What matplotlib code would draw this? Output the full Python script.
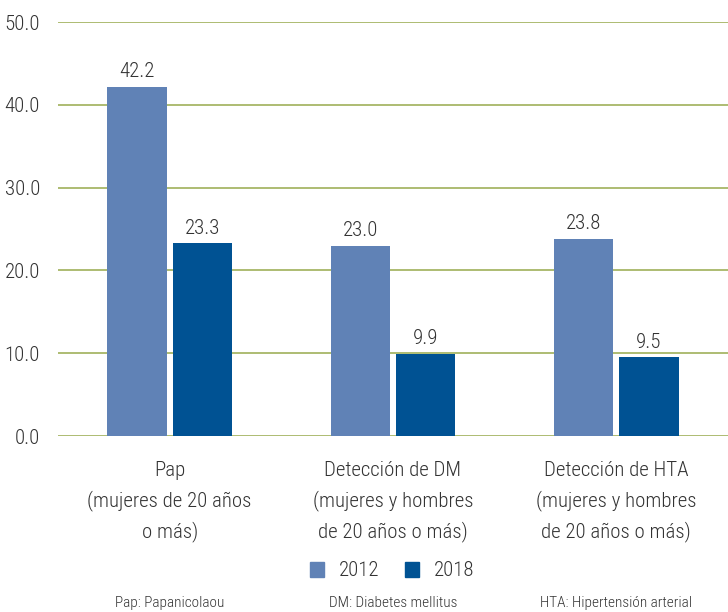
import matplotlib
matplotlib.use("Agg")
import matplotlib.pyplot as plt
import numpy as np
from matplotlib.patches import Rectangle

plt.rcParams['font.family'] = ['Roboto Condensed', 'DejaVu Sans']
plt.rcParams['font.weight'] = 300

categories = ["Pap\n(mujeres de 20 años\no más)",
              "Detección de DM\n(mujeres y hombres\nde 20 años o más)",
              "Detección de HTA\n(mujeres y hombres\nde 20 años o más)"]
series_names = ["2012", "2018"]
values_2012 = [42.2, 23.0, 23.8]
values_2018 = [23.3, 9.9, 9.5]
yticks = [0, 10, 20, 30, 40, 50]
footnotes = ["Pap: Papanicolaou", "DM: Diabetes mellitus", "HTA: Hipertensión arterial"]

c2012 = "#6082b6"
c2018 = "#005293"
txt = "#333333"
fs = 15

fig = plt.figure(figsize=(7.28, 6.12), dpi=100)
ax = fig.add_axes([58/728, 1-436/612, 670/728, 414/612])

x = np.arange(len(categories))
w = 0.265
gap = 0.027
b1 = ax.bar(x - w/2 - gap/2, values_2012, w, color=c2012, zorder=3)
b2 = ax.bar(x + w/2 + gap/2, values_2018, w, color=c2018, zorder=3)
for bars, vals in ((b1, values_2012), (b2, values_2018)):
    for r, v in zip(bars, vals):
        ax.annotate(f"{v:.1f}", (r.get_x() + r.get_width()/2, v),
                    xytext=(0, 4), textcoords="offset points",
                    ha="center", va="bottom", fontsize=fs, color=txt)

ax.set_xlim(-0.5, 2.5)
ax.set_ylim(0, 50)
ax.set_yticks(yticks)
ax.set_yticklabels([f"{t:.1f}" for t in yticks], fontsize=fs, color=txt)
ax.yaxis.grid(True, color="#9fb05a", linewidth=1.2, zorder=0)
ax.set_axisbelow(True)
ax.tick_params(axis="y", length=0, pad=13)
ax.tick_params(axis="x", length=0, pad=18)
ax.set_xticks(x)
ax.set_xticklabels(categories, fontsize=fs, color=txt, linespacing=1.62)
for s in ax.spines.values():
    s.set_visible(False)

handles = [Rectangle((0, 0), 1, 1, color=c2012), Rectangle((0, 0), 1, 1, color=c2018)]
fig.legend(handles, series_names, loc="center", bbox_to_anchor=(392/728, 1-571/612),
           ncol=2, frameon=False, fontsize=15, handlelength=0.7, handleheight=0.7,
           columnspacing=1.2, handletextpad=0.7, labelcolor=txt)

for xi, t in zip(x, footnotes):
    xf = ax.transData.transform((xi, 0))[0] / fig.bbox.width
    fig.text(xf, 1-603/612, t, ha="center", va="center", fontsize=11, color=txt)

fig.savefig("out.png", dpi=100)
